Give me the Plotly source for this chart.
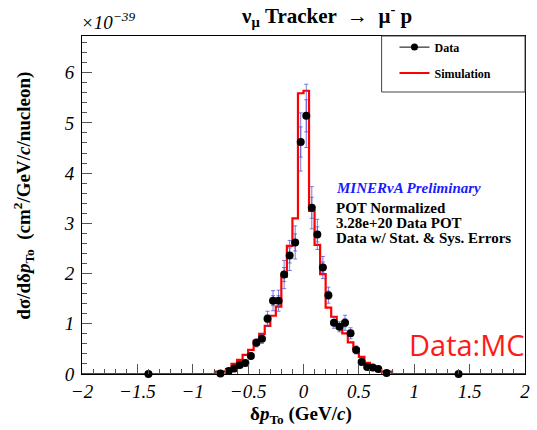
import plotly.graph_objects as go

# Bin edges in delta p_To (GeV/c): two wide outer bins, fine 0.05 bins in the core
bin_edges = [-2.0, -0.8, -0.7, -0.65, -0.6, -0.55, -0.5, -0.45, -0.4, -0.35, -0.3,
             -0.25, -0.2, -0.15, -0.1, -0.05, 0.0, 0.05, 0.1, 0.15, 0.2, 0.25,
             0.3, 0.35, 0.4, 0.45, 0.5, 0.55, 0.6, 0.65, 0.7, 0.8, 2.0]

# Simulated cross section per bin (x1e-39 cm^2/GeV/c/nucleon)
sim_xsec = [0.0, 0.05, 0.10, 0.20, 0.28, 0.38, 0.48, 0.66, 0.80, 0.96, 1.16,
            1.34, 1.94, 2.55, 3.10, 5.59, 5.64, 3.25, 2.57, 1.99, 1.32, 1.14,
            0.96, 0.81, 0.63, 0.50, 0.34, 0.22, 0.15, 0.10, 0.05, 0.0]

# Measured points at bin centres
data_x = [-1.4, -0.75, -0.675, -0.625, -0.575, -0.525, -0.475, -0.425, -0.375,
          -0.325, -0.275, -0.225, -0.175, -0.125, -0.075, -0.025, 0.025, 0.075,
          0.125, 0.175, 0.225, 0.275, 0.325, 0.375, 0.425, 0.475, 0.525, 0.575,
          0.625, 0.675, 0.75, 1.4]
data_xsec = [0.0, 0.01, 0.06, 0.11, 0.18, 0.22, 0.36, 0.62, 0.70, 1.10, 1.46,
             1.46, 1.98, 2.36, 2.62, 4.62, 5.14, 3.31, 2.78, 2.12, 1.57, 1.02,
             0.94, 1.02, 0.81, 0.48, 0.24, 0.14, 0.13, 0.10, 0.02, 0.0]
total_err = [0.0, 0.01, 0.02, 0.03, 0.04, 0.05, 0.06, 0.08, 0.09, 0.15, 0.20,
             0.21, 0.28, 0.30, 0.33, 0.58, 0.63, 0.42, 0.30, 0.22, 0.16, 0.11,
             0.10, 0.15, 0.11, 0.08, 0.05, 0.04, 0.03, 0.03, 0.01, 0.0]
stat_err = [0.0, 0.005, 0.01, 0.015, 0.02, 0.025, 0.03, 0.04, 0.045, 0.08, 0.10,
            0.10, 0.14, 0.15, 0.17, 0.30, 0.32, 0.21, 0.15, 0.11, 0.08, 0.06,
            0.05, 0.08, 0.06, 0.04, 0.025, 0.02, 0.015, 0.015, 0.005, 0.0]

# Axis tick positions and labels
x_ticks = [-2, -1.5, -1, -0.5, 0, 0.5, 1, 1.5, 2]
x_labels = ["−2", "−1.5", "−1", "−0.5", "0", "0.5", "1", "1.5", "2"]
y_ticks = [0, 1, 2, 3, 4, 5, 6]
y_labels = ["0", "1", "2", "3", "4", "5", "6"]

SERIF = "Liberation Serif"
ERR_COLOR = "rgba(80,80,205,0.75)"

fig = go.Figure()

# Simulation histogram outline
fig.add_trace(go.Scatter(
    x=bin_edges, y=sim_xsec + [sim_xsec[-1]],
    mode="lines", line=dict(color="#ff0000", width=2.2, shape="hv"),
    showlegend=False, hoverinfo="skip", cliponaxis=False))

# Total (stat + sys) and statistical error bars
for err in (total_err, stat_err):
    fig.add_trace(go.Scatter(
        x=data_x, y=data_xsec, mode="markers",
        marker=dict(size=1, color="rgba(0,0,0,0)"),
        error_y=dict(type="data", array=err, visible=True,
                     color=ERR_COLOR, thickness=1, width=2),
        showlegend=False, hoverinfo="skip", cliponaxis=False))

# Data points
fig.add_trace(go.Scatter(
    x=data_x, y=data_xsec, mode="markers",
    marker=dict(size=8, color="black"),
    showlegend=False, cliponaxis=False))

# Legend entries
fig.add_trace(go.Scatter(
    x=[None], y=[None], mode="lines+markers", name="<b>Data</b>",
    line=dict(color="black", width=1), marker=dict(size=7, color="black"),
    legendgroup="d"))
fig.add_trace(go.Scatter(
    x=[None], y=[None], mode="lines", name="<b>Simulation</b>",
    line=dict(color="#ff0000", width=2), legendgroup="s"))

axis_common = dict(
    showline=True, linecolor="black", linewidth=1, mirror=True,
    showgrid=False, zeroline=False, ticks="inside", ticklen=10,
    tickcolor="#555", tickwidth=1,
    tickfont=dict(family=SERIF, size=19, color="black", style="italic"),
)

fig.update_xaxes(range=[-2, 2], tickmode="array", tickvals=x_ticks,
                 ticktext=["<i>%s</i>" % t for t in x_labels],
                 minor=dict(dtick=0.1, tick0=-2, ticks="inside", ticklen=5,
                            tickcolor="#555", showgrid=False),
                 ticklabelstandoff=0, **axis_common)
fig.update_yaxes(range=[0, 6.73], tickmode="array", tickvals=y_ticks,
                 ticktext=["<i>%s</i>" % t for t in y_labels],
                 minor=dict(dtick=0.2, tick0=0, ticks="inside", ticklen=5,
                            tickcolor="#555", showgrid=False),
                 ticklabelstandoff=3, **axis_common)

annotations = [
    dict(text="<b>ν<sub>μ</sub> Tracker  →  μ<sup>-</sup> p</b>",
         x=329, y=16, font=dict(family=SERIF, size=21, color="black")),
    dict(text="<i>×10<sup>−39</sup></i>", x=79, y=21, xanchor="left",
         font=dict(family=SERIF, size=19, color="black")),
    dict(text="<b>δ<i>p</i><sub>To</sub> (GeV/<i>c</i>)</b>", x=303, y=415,
         font=dict(family=SERIF, size=19, color="black")),
    dict(text="<b>dσ/dδ<i>p</i><sub>To</sub>  (cm<sup>2</sup>/GeV/<i>c</i>/nucleon)</b>",
         x=22, y=196, textangle=-90,
         font=dict(family=SERIF, size=19, color="black")),
    dict(text="<b><i>MINERνA Preliminary</i></b>", x=337, y=188, xanchor="left",
         font=dict(family=SERIF, size=15, color="#1a1aff")),
    dict(text="<b>POT Normalized</b>", x=337, y=208, xanchor="left",
         font=dict(family=SERIF, size=15, color="black")),
    dict(text="<b>3.28e+20 Data POT</b>", x=337, y=223, xanchor="left",
         font=dict(family=SERIF, size=15, color="black")),
    dict(text="<b>Data w/ Stat. &amp; Sys. Errors</b>", x=337, y=238, xanchor="left",
         font=dict(family=SERIF, size=15, color="black")),
    dict(text="Data:MC", x=411, y=344, xanchor="left",
         font=dict(family="Open Sans", size=29, color="#ff1a1a")),
]

W, H = 537, 430
L, R, T, B = 82, 7, 36, 56
pw, ph = W - L - R, H - T - B
ann_list = []
for a in annotations:
    a = dict(a)
    px, py = a.pop("x"), a.pop("y")
    a.update(xref="paper", yref="paper",
             x=(px - L) / pw, y=(H - B - py) / ph,
             showarrow=False)
    a.setdefault("xanchor", "center")
    a.setdefault("yanchor", "middle")
    ann_list.append(a)

fig.update_layout(
    width=W, height=H,
    margin=dict(l=L, r=R, t=T, b=B),
    plot_bgcolor="white", paper_bgcolor="white",
    annotations=ann_list,
    legend=dict(x=(398 - L) / pw, y=1.01, xanchor="left", yanchor="top",
                bgcolor="rgba(0,0,0,0)", borderwidth=0,
                font=dict(family=SERIF, size=12, color="black"),
                traceorder="grouped", tracegroupgap=7, itemwidth=30),
    shapes=[dict(type="rect", xref="paper", yref="paper",
                 x0=(385 - L) / pw, x1=1.0,
                 y0=(H - B - 92) / ph, y1=1.0,
                 line=dict(color="#444", width=1), fillcolor="rgba(0,0,0,0)")],
)

fig.write_html("out.html")
